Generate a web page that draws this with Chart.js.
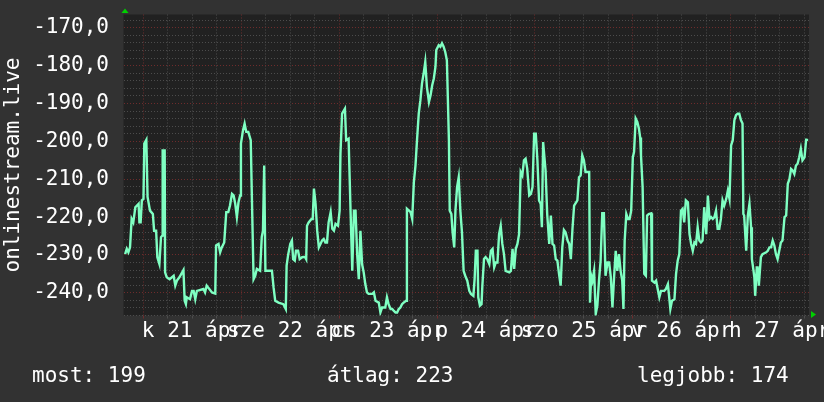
<!DOCTYPE html>
<html>
<head>
<meta charset="utf-8">
<script src="https://cdn.jsdelivr.net/npm/chart.js@4.4.0/dist/chart.umd.min.js"></script>
<style>
    html, body { margin: 0; padding: 0; background: #323232; }
    canvas { display: block; }
</style>
</head>
<body>
<canvas id="rankChart" width="824" height="402"></canvas>
<script>
// hours since 21 Apr 00:00
const hours = [
    -4.5, -4.1, -3.7, -3.3, -2.9, -2.5, -2.0, -1.2, -1.0, -0.7, -0.4, 0.0, 0.2, 0.7, 1.0, 1.6, 2.3, 2.6, 3.1, 3.4,
    3.9, 4.3, 4.6, 4.7, 5.2, 5.3, 5.7, 6.4, 7.4, 7.8, 8.2, 8.8, 9.8, 10.1, 10.4, 10.6, 11.4, 11.9, 12.3, 12.7,
    13.1, 14.7, 15.1, 15.5, 16.8, 17.6, 17.8, 18.4, 18.8, 19.2, 19.8, 20.3, 20.8, 21.2, 21.7, 22.1, 22.5, 22.9, 23.3, 23.7,
    23.9, 24.4, 24.8, 25.2, 25.7, 26.3, 26.6, 27.0, 27.4, 27.8, 28.6, 29.0, 29.3, 29.6, 29.9, 31.5, 31.9, 32.3, 33.1, 34.3,
    34.9, 35.1, 35.5, 36.0, 36.4,
    36.7, 37.1, 37.4, 37.9, 38.3, 38.9, 39.6, 39.9, 40.1, 40.5, 41.2, 41.5, 41.8, 42.2, 42.6, 43.0, 43.4, 43.8, 44.2, 44.6,
    45.0, 45.4, 45.9, 46.3, 46.7, 47.1, 47.7, 48.1, 48.3, 48.7, 49.4, 49.7, 50.3, 50.8, 51.2, 51.6, 52.0, 52.4, 52.8, 53.2,
    53.6, 54.0, 54.4, 54.8, 55.2, 56.1, 56.5, 56.9, 57.7, 58.1, 58.5, 59.3, 59.7, 60.1, 60.6, 61.0, 61.4, 61.8, 62.2, 62.6,
    63.0, 63.4, 63.8, 64.4, 64.6, 65.1, 65.5, 65.9, 66.3, 66.7, 67.1, 67.5, 67.9, 68.3, 68.7, 69.1, 69.5, 70.0, 70.4, 70.8,
    71.2, 71.6, 71.8, 72.4, 72.8, 73.2, 73.6, 74.0, 74.4, 74.9, 75.1, 75.5, 75.8, 76.2, 76.5, 76.9, 77.3, 77.7, 78.1, 78.5,
    78.9,
    79.4, 79.9, 80.3, 80.9, 81.2, 81.5, 81.9, 82.1, 82.5, 82.9, 83.1, 83.5, 83.9, 84.3, 84.8, 85.2, 85.6, 86.0, 86.4, 86.8,
    87.2, 87.6, 88.0, 88.4, 88.8, 89.7, 90.1, 90.5, 90.9, 91.3, 91.7, 92.1, 92.5, 92.9, 93.3, 93.7, 94.1, 94.6, 95.0, 95.4,
    95.8, 96.2, 96.6, 97.0, 97.4, 97.7, 98.0, 98.2, 98.6, 99.0, 99.5, 99.9, 100.3, 100.7, 101.1, 101.5, 101.9, 102.3, 102.7, 103.1,
    103.5, 104.0, 104.4, 104.8, 105.2, 105.6, 106.4, 106.8, 107.2, 107.6, 108.0, 108.4, 109.3, 109.5, 109.8, 110.1, 110.5, 110.9, 111.3, 111.7,
    112.1, 112.5, 112.9, 113.3, 113.8, 114.2, 114.6, 115.0, 115.4, 115.8, 116.2, 116.6, 117.0, 117.4, 117.7, 118.0, 118.4, 118.8, 119.2, 119.6,
    120.0, 120.3, 120.7, 121.1, 121.5,
    121.8, 122.0, 122.4, 122.8, 123.2, 123.5, 123.9, 124.5, 124.7, 125.3, 125.7, 126.1, 126.5, 126.9, 127.7, 128.1, 128.6, 129.0, 129.2, 129.6,
    130.2, 130.6, 131.0, 131.4, 131.8, 132.2, 132.6, 133.0, 133.5, 133.9, 134.3, 134.7, 135.1, 135.5, 135.9, 136.3, 136.7, 137.1, 137.5, 138.0,
    138.4, 138.8, 139.2, 139.6, 140.0, 140.4, 140.8, 141.2, 141.6, 142.0, 142.4, 142.9, 143.3, 143.7, 144.1, 144.5, 144.9, 145.3, 145.7, 146.1,
    146.5, 146.9, 147.1, 147.3, 147.8, 148.2, 148.6, 149.0, 149.2, 149.6, 149.8, 150.0, 150.4, 150.6, 150.9, 151.4, 151.8, 152.7, 153.1, 153.5,
    153.9, 154.3, 154.7, 155.1, 155.5, 155.9, 156.3, 156.7, 157.2, 157.6, 158.0, 158.4, 158.8, 159.2, 159.6, 160.0, 160.4, 160.8, 161.2, 161.6,
    162.1, 162.5, 162.7
];

// rank of onlinestream.live (plotted negative, so better is higher)
const rank = [
    -229.8, -228.4, -229.3, -228.0, -220.5, -221.4, -217.4, -216.5, -221.4, -221.4, -215.6, -215.2, -200.6, -199.6, -214.7, -218.3, -219.2, -223.6, -223.6, -230.6,
    -232.4, -225.3, -224.9, -202.4, -202.4, -234.6, -235.9, -236.4, -235.5, -238.1, -236.8, -235.9, -234.0, -242.1, -243.0, -241.2, -241.7, -239.5, -239.5, -241.7,
    -239.5, -239.0, -239.9, -238.1, -239.9, -240.2, -227.5, -227.1, -229.3, -228.0, -226.7, -218.7, -218.7, -217.0, -213.9, -214.3, -216.5, -220.0, -216.1, -214.3,
    -200.6, -197.1, -195.3, -197.5, -197.5, -199.7, -215.6, -236.4, -235.5, -233.7, -234.2, -225.3, -223.6, -206.4, -234.2, -234.2, -238.6, -242.1, -242.6, -243.0,
    -244.3, -232.8, -229.8, -227.1, -226.2,
    -231.1, -231.5, -228.9, -228.9, -231.1, -230.6, -230.5, -231.1, -222.3, -221.4, -220.5, -220.5, -212.5, -216.5, -223.6, -228.0, -227.1, -226.2, -225.8, -226.7,
    -226.7, -221.4, -218.7, -223.1, -223.6, -221.8, -222.3, -218.3, -203.3, -192.7, -191.4, -199.7, -199.3, -219.2, -234.2, -218.3, -218.3, -229.8, -236.4, -223.6,
    -232.4, -234.6, -237.7, -239.9, -240.3, -240.3, -239.9, -242.1, -242.6, -245.2, -243.9, -243.9, -241.2, -243.0, -244.3, -244.3, -244.8, -245.2, -245.2, -244.3,
    -243.9, -243.0, -242.6, -242.1, -217.8, -218.3, -218.7, -220.5, -210.8, -206.4, -199.3, -192.7, -189.2, -184.7, -182.1, -179.0, -185.6, -189.6, -187.8, -185.2,
    -183.4, -180.3, -175.9, -174.6, -175.0, -174.1, -175.0, -176.4, -178.6, -199.7, -218.3, -219.2, -224.0, -228.0, -218.3, -212.1, -209.5, -218.3, -224.0, -234.2,
    -235.5,
    -236.8, -239.5, -240.3, -240.8, -236.4, -228.9, -228.9, -241.2, -243.4, -243.0, -238.1, -231.1, -230.6, -231.1, -232.4, -228.9, -228.4, -233.3, -232.0, -232.0,
    -224.5, -222.3, -227.1, -229.8, -234.2, -234.6, -234.2, -228.4, -233.7, -228.4, -227.1, -224.5, -208.1, -209.0, -205.0, -204.6, -207.2, -214.3, -213.9, -212.1,
    -198.0, -198.0, -205.0, -215.6, -216.5, -222.7, -200.2, -200.2, -207.7, -219.2, -227.1, -219.6, -227.1, -227.5, -231.1, -231.5, -235.0, -238.1, -228.0, -223.4,
    -224.0, -226.2, -227.1, -231.1, -223.1, -217.0, -215.6, -209.5, -209.0, -203.7, -205.0, -208.1, -208.1, -242.6, -235.5, -236.8, -234.2, -245.6, -243.4, -236.8,
    -231.5, -219.0, -219.0, -235.5, -232.0, -232.0, -235.9, -243.9, -235.9, -228.9, -234.2, -229.8, -234.2, -236.8, -244.3, -226.2, -219.2, -220.5, -220.5, -218.3,
    -204.2, -202.8, -194.0, -194.9, -196.7,
    -199.0, -203.7, -212.1, -235.0, -235.5, -219.6, -219.2, -219.0, -236.8, -237.3, -236.8, -239.0, -241.2, -239.5, -239.5, -239.0, -237.7, -242.1, -244.3, -242.1,
    -241.7, -235.0, -231.5, -229.8, -218.3, -217.8, -221.4, -215.6, -216.1, -224.5, -227.1, -228.9, -226.7, -227.1, -222.7, -226.2, -226.7, -226.2, -217.4, -224.5,
    -214.3, -220.5, -220.0, -220.5, -220.0, -218.3, -223.1, -223.1, -220.5, -215.6, -217.0, -215.2, -213.0, -215.2, -201.1, -199.7, -194.4, -193.1, -192.7, -192.7,
    -194.4, -195.3, -219.2, -219.6, -228.9, -219.6, -216.5, -222.7, -231.1, -234.2, -235.9, -240.8, -233.3, -233.3, -238.1, -230.6, -229.8, -229.3, -228.9, -228.0,
    -228.0, -226.2, -227.5, -229.8, -231.1, -228.9, -226.7, -226.2, -220.0, -219.6, -211.2, -210.0, -207.3, -207.7, -208.6, -206.4, -205.9, -204.2, -202.0, -205.0,
    -204.2, -199.6, -199.3
];

// axis labels
const yLabelValues = [-240, -230, -220, -210, -200, -190, -180, -170];
const dayLabels = ['k 21 ápr', 'sze 22 ápr', 'cs 23 ápr', 'p 24 ápr', 'szo 25 ápr', 'v 26 ápr', 'h 27 ápr'];
const legendLabels = ['most', 'átlag', 'legjobb'];
const legendValues = [199, 223, 174];

const FONT = "'DejaVu Sans Mono', monospace";
const MAJOR = '#6e2c2c';
const MINOR = '#4c4c4c';

// grid every 6 hours / every 2 places
const xGrid = [];
for (let h = 0; h <= 162; h += 6) xGrid.push(h);
const yGrid = [];
for (let v = -246; v <= -168; v += 2) yGrid.push(v);

const backdrop = {
    id: 'backdrop',
    beforeDraw(chart) {
        const { ctx, chartArea: a } = chart;
        ctx.save();
        ctx.fillStyle = '#323232';
        ctx.fillRect(0, 0, chart.width, chart.height);
        ctx.fillStyle = '#212121';
        ctx.fillRect(a.left, a.top, a.right - a.left, a.bottom - a.top);
        ctx.restore();
    }
};

const extras = {
    id: 'extras',
    afterDraw(chart) {
        const { ctx, chartArea: a } = chart;
        ctx.save();
        // arrows
        ctx.fillStyle = '#00d000';
        ctx.beginPath();
        ctx.moveTo(a.left + 1.5, 8.5);
        ctx.lineTo(a.left - 2, 13);
        ctx.lineTo(a.left + 5, 13);
        ctx.closePath();
        ctx.fill();
        ctx.beginPath();
        ctx.moveTo(a.right + 7, a.bottom - 1);
        ctx.lineTo(a.right + 2, a.bottom - 4.5);
        ctx.lineTo(a.right + 2, a.bottom + 2.5);
        ctx.closePath();
        ctx.fill();

        // y axis title
        ctx.fillStyle = '#ffffff';
        ctx.font = '21px ' + FONT;
        ctx.translate(19, (a.top + a.bottom) / 2);
        ctx.rotate(-Math.PI / 2);
        ctx.textAlign = 'center';
        ctx.textBaseline = 'alphabetic';
        ctx.fillText('onlinestream.live', 0, 0);
        ctx.restore();

        // legend line
        ctx.save();
        ctx.fillStyle = '#ffffff';
        ctx.font = '21px ' + FONT;
        ctx.textBaseline = 'alphabetic';
        const xs = [32, 327, 637];
        legendLabels.forEach((lab, i) => {
            ctx.fillText(lab + ': ' + legendValues[i], xs[i], 382);
        });
        ctx.restore();
    }
};

const ctx = document.getElementById('rankChart').getContext('2d');
new Chart(ctx, {
    type: 'line',
    data: {
        datasets: [{
            data: hours.map((h, i) => ({ x: h, y: rank[i] })),
            borderColor: '#7fffc2',
            borderWidth: 2.4,
            pointRadius: 0,
            tension: 0,
            fill: false
        }]
    },
    options: {
        responsive: false,
        animation: false,
        events: [],
        layout: { padding: { top: 14.5, right: 15, bottom: 0, left: 0 } },
        plugins: {
            legend: { display: false },
            tooltip: { enabled: false }
        },
        scales: {
            x: {
                type: 'linear',
                min: -4.9,
                max: 163.2,
                afterBuildTicks: s => { s.ticks = xGrid.map(v => ({ value: v })); },
                afterFit: s => { s.height = 86.5; s.paddingLeft = 0; s.paddingRight = 0; },
                ticks: {
                    autoSkip: false,
                    maxRotation: 0,
                    minRotation: 0,
                    padding: 0,
                    color: '#ffffff',
                    font: { family: FONT, size: 21 },
                    callback: v => (v % 24 === 12 ? dayLabels[(v - 12) / 24] : '')
                },
                grid: {
                    color: c => (c.tick && c.tick.value % 24 === 0 ? MAJOR : MINOR),
                    tickColor: c => (c.tick && c.tick.value % 24 === 0 ? MAJOR : MINOR),
                    lineWidth: 1,
                    drawTicks: true,
                    tickLength: 3
                },
                border: { display: false, dash: [1, 2] }
            },
            y: {
                min: -246,
                max: -166.5,
                afterBuildTicks: s => { s.ticks = yGrid.map(v => ({ value: v })); },
                afterFit: s => { s.width = 123.5; s.paddingTop = 0; s.paddingBottom = 0; },
                ticks: {
                    autoSkip: false,
                    padding: 14.5,
                    color: '#ffffff',
                    font: { family: FONT, size: 21 },
                    callback: v => (yLabelValues.includes(v) ? v.toFixed(1).replace('.', ',') : '')
                },
                grid: {
                    color: c => (c.tick && yLabelValues.includes(c.tick.value) ? MAJOR : MINOR),
                    lineWidth: 1,
                    drawTicks: false
                },
                border: { display: false, dash: [1, 2] }
            }
        }
    },
    plugins: [backdrop, extras]
});
</script>
</body>
</html>
